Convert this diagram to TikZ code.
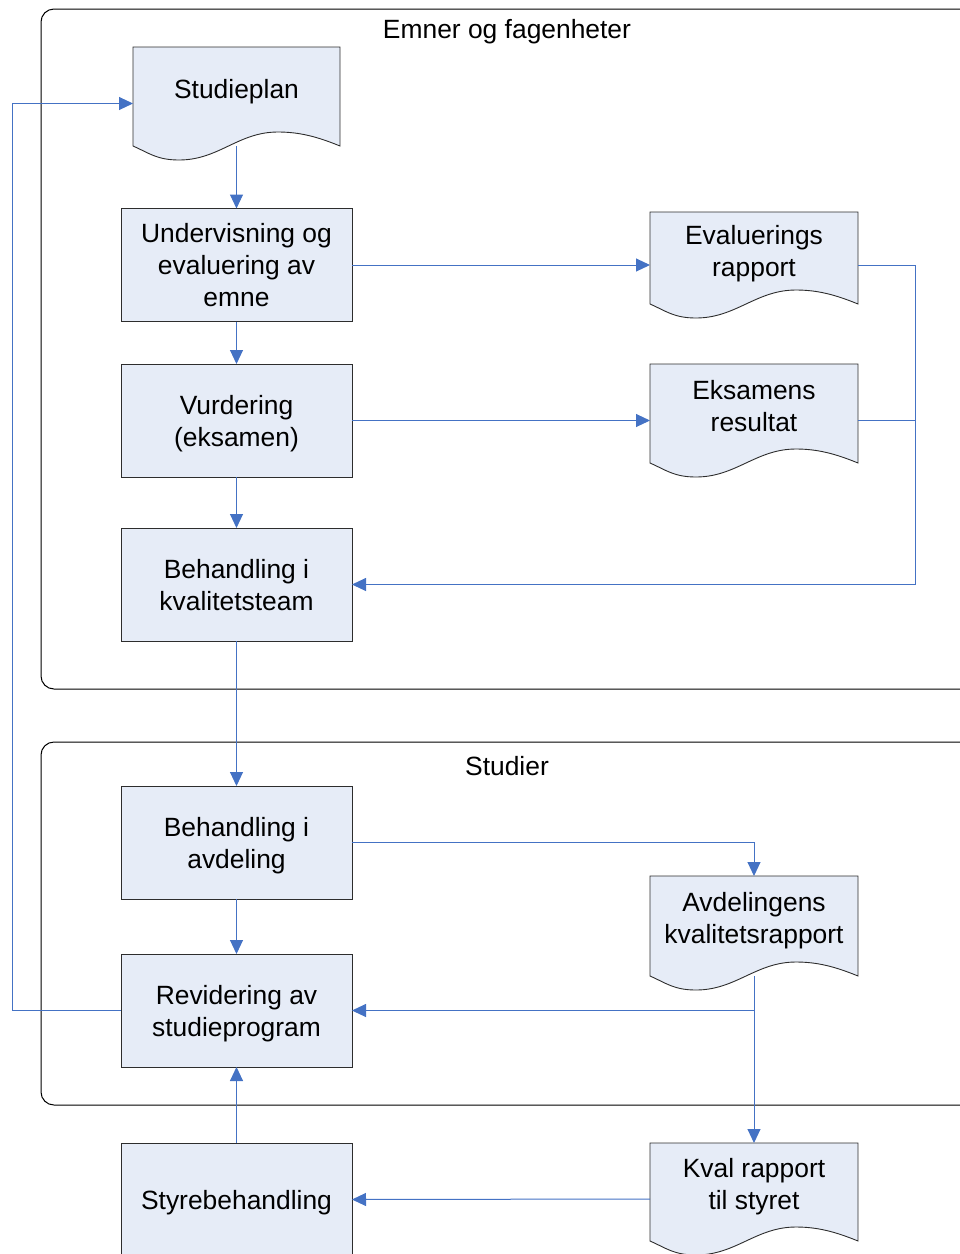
\documentclass[tikz,border=0pt]{standalone}
\usepackage{fontspec}
\setmainfont{Liberation Sans}
\usetikzlibrary{calc,arrows.meta}
\definecolor{boxfill}{RGB}{230,236,247}
\definecolor{conncol}{RGB}{68,114,196}
\definecolor{boxline}{RGB}{45,45,45}
\newcommand\docoutline[1]{%
  \path[docfill] (#1.north west) -- (#1.north east) -- ($(#1.south east)+(0,-14)$)
    .. controls ($(#1.south east)+(-22,-23)$) and ($(#1.south east)+(-40,-28)$) .. ($(#1.south east)+(-62,-28)$)
    .. controls ($(#1.south east)+(-102,-28)$) and ($(#1.south west)+(86,0)$) .. ($(#1.south west)+(46,0)$)
    .. controls ($(#1.south west)+(24,0)$) and ($(#1.south west)+(16,-7)$) .. ($(#1.south west)+(0,-14)$) -- cycle;}
\begin{document}
\begin{tikzpicture}[x=1pt,y=-1pt,
  every node/.style={font=\fontsize{26.4}{32}\selectfont, inner sep=0pt, outer sep=0pt},
  procbox/.style={draw=boxline, fill=boxfill, line width=0.9pt, minimum width=231pt, minimum height=113pt, align=center, text depth=0pt},
  docbody/.style={minimum width=208pt, inner sep=0pt},
  docfill/.style={draw=boxline, fill=boxfill, line width=0.9pt},
  doctext/.style={align=center, text depth=0pt},
  conn/.style={draw=conncol, line width=1pt, -{Triangle[length=14pt,width=13pt]}},
  wire/.style={draw=conncol, line width=1pt},
  container/.style={draw=black, line width=1pt, rounded corners=13pt},
  ttl/.style={text depth=0pt}]
\useasboundingbox (0,0) rectangle (960,1254);
\clip (0,0) rectangle (960,1254);

% containers
\draw[container] (41,9) rectangle (1000,689);
\node[ttl] (t1) at (507,29) {Emner og fagenheter};
\draw[container] (41,742) rectangle (1000,1105);
\node[ttl] (t2) at (507,766) {Studier};

% process boxes
\node[procbox] (und) at (236.5,265) {Undervisning og\\evaluering av\\emne};
\node[procbox] (vur) at (236.5,420.5) {Vurdering\\(eksamen)};
\node[procbox] (bk) at (236.5,584.5) {Behandling i\\kvalitetsteam};
\node[procbox] (ba) at (236.5,842.5) {Behandling i\\avdeling};
\node[procbox] (rev) at (236.5,1010.5) {Revidering av\\studieprogram};
\node[procbox] (sty) at (236.5,1199.5) {Styrebehandling};

% document shapes
\node[docbody, minimum width=207pt, minimum height=113pt] (sp) at (236.5,103.5) {};
\node[docbody, minimum height=106pt] (ev) at (754,265) {};
\node[docbody, minimum height=113pt] (ek) at (754,420.5) {};
\node[docbody, minimum height=114pt] (av) at (754,933) {};
\node[docbody, minimum height=112pt] (kv) at (754,1199) {};
\docoutline{sp}
\docoutline{ev}
\docoutline{ek}
\docoutline{av}
\docoutline{kv}
\node[doctext] (sp-t) at ($(sp.center)+(0,-15)$) {Studieplan};
\node[doctext] (ev-t) at ($(ev.center)+(0,-14)$) {Evaluerings\\rapport};
\node[doctext] (ek-t) at ($(ek.center)+(0,-15)$) {Eksamens\\resultat};
\node[doctext] (av-t) at ($(av.center)+(0,-15)$) {Avdelingens\\kvalitetsrapport};
\node[doctext] (kv-t) at ($(kv.center)+(0,-15)$) {Kval rapport\\til styret};

% junction coordinates
\coordinate (rj) at (915,0);
\coordinate (lj) at (12,0);

% connectors
\draw[conn] ($(sp.south)+(0,-14)$) -- (und.north);
\draw[conn] (und.east) -- (ev.west);
\draw[conn] (und.south) -- (vur.north);
\draw[conn] (vur.east) -- (ek.west);
\draw[conn] (vur.south) -- (bk.north);
\draw[conn] (ev.east) -- (ev.east -| rj) |- (bk.east);
\draw[wire] (ek.east) -- (ek.east -| rj);
\draw[conn] (bk.south) -- (ba.north);
\draw[conn] (ba.east) -| (av.north);
\draw[conn] (ba.south) -- (rev.north);
\draw[conn] ($(av.south)+(0,-14)$) -- (kv.north);
\draw[conn] (av.south |- rev.east) -- (rev.east);
\draw[conn] (kv.west) -- (sty.east);
\draw[conn] (sty.north) -- (rev.south);
\draw[conn] (rev.west) -- (rev.west -| lj) |- (sp.west);
\end{tikzpicture}
\end{document}
